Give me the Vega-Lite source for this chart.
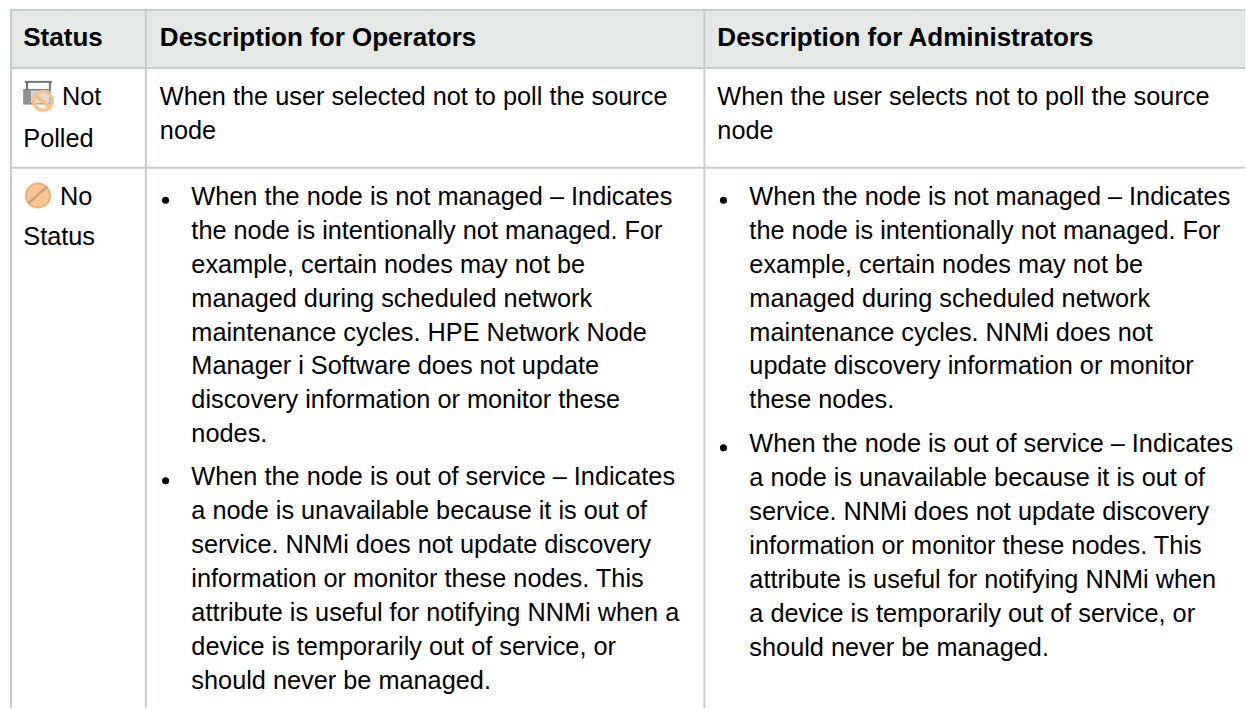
{"$schema":"https://vega.github.io/schema/vega-lite/v6.json","width":1246,"height":709,"autosize":{"type":"fit","contains":"padding"},"padding":0,"background":"#ffffff","view":{"stroke":null},
"datasets":{
"text":[
{"t":1.87,"line":1.353,"kind":"head","text":"Status"},
{"t":12.84,"line":1.353,"kind":"head","text":"Description for Operators"},
{"t":57.62,"line":1.353,"kind":"head","text":"Description for Administrators"},
{"t":4.98,"line":3.088,"kind":"body","text":"Not"},
{"t":1.87,"line":4.324,"kind":"body","text":"Polled"},
{"t":12.84,"line":3.088,"kind":"body","text":"When the user selected not to poll the source"},
{"t":12.84,"line":4.088,"kind":"body","text":"node"},
{"t":57.62,"line":3.088,"kind":"body","text":"When the user selects not to poll the source"},
{"t":57.62,"line":4.088,"kind":"body","text":"node"},
{"t":4.82,"line":6.029,"kind":"body","text":"No"},
{"t":1.87,"line":7.206,"kind":"body","text":"Status"},
{"t":15.37,"line":6.029,"kind":"body","text":"When the node is not managed – Indicates"},
{"t":15.37,"line":7.029,"kind":"body","text":"the node is intentionally not managed. For"},
{"t":15.37,"line":8.029,"kind":"body","text":"example, certain nodes may not be"},
{"t":15.37,"line":9.029,"kind":"body","text":"managed during scheduled network"},
{"t":15.37,"line":10.029,"kind":"body","text":"maintenance cycles. HPE Network Node"},
{"t":15.37,"line":11.029,"kind":"body","text":"Manager i Software does not update"},
{"t":15.37,"line":12.029,"kind":"body","text":"discovery information or monitor these"},
{"t":15.37,"line":13.029,"kind":"body","text":"nodes."},
{"t":15.37,"line":14.294,"kind":"body","text":"When the node is out of service – Indicates"},
{"t":15.37,"line":15.294,"kind":"body","text":"a node is unavailable because it is out of"},
{"t":15.37,"line":16.294,"kind":"body","text":"service. NNMi does not update discovery"},
{"t":15.37,"line":17.294,"kind":"body","text":"information or monitor these nodes. This"},
{"t":15.37,"line":18.294,"kind":"body","text":"attribute is useful for notifying NNMi when a"},
{"t":15.37,"line":19.294,"kind":"body","text":"device is temporarily out of service, or"},
{"t":15.37,"line":20.294,"kind":"body","text":"should never be managed."},
{"t":60.19,"line":6.029,"kind":"body","text":"When the node is not managed – Indicates"},
{"t":60.19,"line":7.029,"kind":"body","text":"the node is intentionally not managed. For"},
{"t":60.19,"line":8.029,"kind":"body","text":"example, certain nodes may not be"},
{"t":60.19,"line":9.029,"kind":"body","text":"managed during scheduled network"},
{"t":60.19,"line":10.029,"kind":"body","text":"maintenance cycles. NNMi does not"},
{"t":60.19,"line":11.029,"kind":"body","text":"update discovery information or monitor"},
{"t":60.19,"line":12.029,"kind":"body","text":"these nodes."},
{"t":60.19,"line":13.324,"kind":"body","text":"When the node is out of service – Indicates"},
{"t":60.19,"line":14.324,"kind":"body","text":"a node is unavailable because it is out of"},
{"t":60.19,"line":15.324,"kind":"body","text":"service. NNMi does not update discovery"},
{"t":60.19,"line":16.324,"kind":"body","text":"information or monitor these nodes. This"},
{"t":60.19,"line":17.324,"kind":"body","text":"attribute is useful for notifying NNMi when"},
{"t":60.19,"line":18.324,"kind":"body","text":"a device is temporarily out of service, or"},
{"t":60.19,"line":19.324,"kind":"body","text":"should never be managed."}
],
"bullets":[{"t":13.3,"line":5.897},{"t":13.3,"line":14.162},{"t":58.11,"line":5.897},{"t":58.11,"line":13.191}],
"vrules":[{"t":0.883,"a":0.294,"b":20.853},{"t":11.717,"a":0.294,"b":20.853},{"t":56.58,"a":0.294,"b":20.853}],
"hrules":[{"line":0.294,"a":0.803,"b":100},{"line":2.0,"a":0.803,"b":100},{"line":4.941,"a":0.803,"b":100}],
"head":[{"a":0.883,"b":100,"c":0.294,"d":2.0}]
},
"layer":[
{"data":{"name":"head"},"mark":{"type":"rect","color":"#e5e9e6"},"encoding":{"x":{"field":"a","type":"quantitative","scale":{"domain":[0,100],"nice":false,"zero":false},"axis":null},"x2":{"field":"b"},"y":{"field":"c","type":"quantitative","scale":{"domain":[0,20.853],"reverse":true,"nice":false,"zero":false},"axis":null},"y2":{"field":"d"}}},
{"data":{"name":"vrules"},"mark":{"type":"rule","color":"#c8cdcc","strokeWidth":2},"encoding":{"x":{"field":"t","type":"quantitative","axis":null},"y":{"field":"a","type":"quantitative","axis":null},"y2":{"field":"b"}}},
{"data":{"name":"hrules"},"mark":{"type":"rule","color":"#c8cdcc","strokeWidth":2},"encoding":{"x":{"field":"a","type":"quantitative","axis":null},"x2":{"field":"b"},"y":{"field":"line","type":"quantitative","axis":null}}},
{"data":{"name":"bullets"},"mark":{"type":"point","shape":"circle","filled":true,"color":"#000000","opacity":1,"size":50},"encoding":{"x":{"field":"t","type":"quantitative","axis":null},"y":{"field":"line","type":"quantitative","axis":null}}},
{"data":{"values":[{"t":3.05,"line":5.756}]},"mark":{"type":"point","shape":"circle","filled":true,"fill":"#f8c491","stroke":"#f3ad6b","strokeWidth":2,"opacity":1,"size":572},"encoding":{"x":{"field":"t","type":"quantitative","axis":null},"y":{"field":"line","type":"quantitative","axis":null}}},
{"data":{"values":[{"a":2.247,"b":3.772,"c":6.0,"d":5.5}]},"mark":{"type":"rule","color":"#c9a27b","strokeWidth":2.5},"encoding":{"x":{"field":"a","type":"quantitative","axis":null},"x2":{"field":"b"},"y":{"field":"c","type":"quantitative","axis":null},"y2":{"field":"d"}}},
{"data":{"values":[{"a":1.93,"b":4.01,"c":2.647,"d":3.059}]},"mark":{"type":"rect","fill":"#d2d5d5","stroke":"#7d8283","strokeWidth":1.5},"encoding":{"x":{"field":"a","type":"quantitative","axis":null},"x2":{"field":"b"},"y":{"field":"c","type":"quantitative","axis":null},"y2":{"field":"d"}}},
{"data":{"values":[{"a":1.93,"b":2.49,"c":2.647,"d":3.059}]},"mark":{"type":"rect","color":"#8d9192"},"encoding":{"x":{"field":"a","type":"quantitative","axis":null},"x2":{"field":"b"},"y":{"field":"c","type":"quantitative","axis":null},"y2":{"field":"d"}}},
{"data":{"values":[{"a":2.0,"b":4.17,"c":2.412,"d":2.412},{"a":2.17,"b":2.17,"c":2.412,"d":2.647},{"a":4.01,"b":4.01,"c":2.412,"d":2.647},{"a":2.89,"b":3.85,"c":2.824,"d":3.118}]},"mark":{"type":"rule","color":"#6f7475","strokeWidth":2},"encoding":{"x":{"field":"a","type":"quantitative","axis":null},"x2":{"field":"b"},"y":{"field":"c","type":"quantitative","axis":null},"y2":{"field":"d"}}},
{"data":{"values":[{"t":3.45,"line":2.971}]},"mark":{"type":"point","shape":"circle","filled":true,"fill":"#fbe3c8","fillOpacity":0.45,"stroke":"#f9c089","strokeWidth":3,"opacity":1,"size":360},"encoding":{"x":{"field":"t","type":"quantitative","axis":null},"y":{"field":"line","type":"quantitative","axis":null}}},
{"data":{"values":[{"a":2.81,"b":4.09,"c":2.735,"d":3.206}]},"mark":{"type":"rule","color":"#f9c089","strokeWidth":3},"encoding":{"x":{"field":"a","type":"quantitative","axis":null},"x2":{"field":"b"},"y":{"field":"c","type":"quantitative","axis":null},"y2":{"field":"d"}}},
{"data":{"name":"text"},"transform":[{"filter":"datum.kind === 'body'"}],"mark":{"type":"text","align":"left","baseline":"alphabetic","font":"Liberation Sans","fontSize":25.3,"color":"#000000"},"encoding":{"x":{"field":"t","type":"quantitative","axis":null},"y":{"field":"line","type":"quantitative","axis":null},"text":{"field":"text","type":"nominal"}}},
{"data":{"name":"text"},"transform":[{"filter":"datum.kind === 'head'"}],"mark":{"type":"text","align":"left","baseline":"alphabetic","font":"Liberation Sans","fontSize":26,"fontWeight":"bold","color":"#000000"},"encoding":{"x":{"field":"t","type":"quantitative","axis":null},"y":{"field":"line","type":"quantitative","axis":null},"text":{"field":"text","type":"nominal"}}}
]}
